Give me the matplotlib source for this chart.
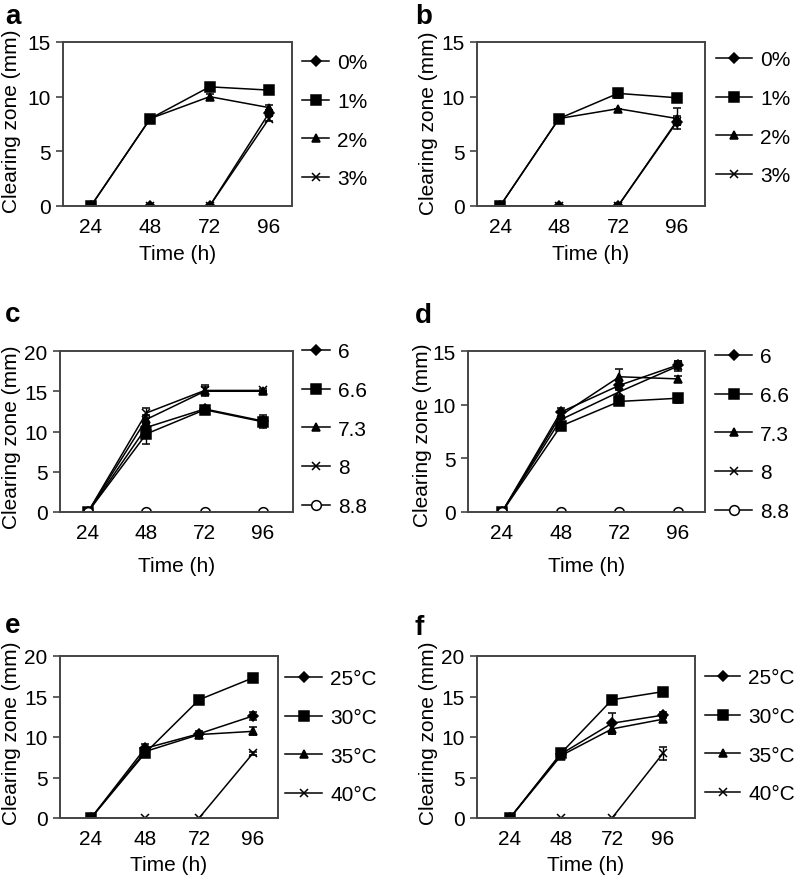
import numpy as np
import matplotlib.pyplot as plt

plt.rcParams['font.family'] = ['Liberation Sans', 'DejaVu Sans']

hours = [24, 48, 72, 96]
markers = ['D', 's', '^', 'x', 'o']

a_labels = ['0%', '1%', '2%', '3%']
a_vals = [[0, 0, 0, 8.5], [0, 8, 10.9, 10.6], [0, 8, 10.0, 9.0], [0, 0, 0, 8.0]]
a_err = [[0, 0, 0, 0.3], [0, 0, 0.2, 0.3], [0, 0, 0.2, 0.2], [0, 0, 0, 0.2]]

b_labels = ['0%', '1%', '2%', '3%']
b_vals = [[0, 0, 0, 7.7], [0, 8, 10.3, 9.9], [0, 8, 8.9, 8.0], [0, 0, 0, 7.8]]
b_err = [[0, 0, 0.3, 0.3], [0, 0, 0.4, 0.2], [0, 0, 0, 1.0], [0, 0, 0, 0.4]]

c_labels = ['6', '6.6', '7.3', '8', '8.8']
c_vals = [[0, 10.5, 12.8, 11.3], [0, 9.7, 12.7, 11.2], [0, 11.5, 15.0, 15.0],
          [0, 12.3, 15.1, 15.1], [0, 0, 0, 0]]
c_err = [[0, 0.6, 0, 0.5], [0, 1.2, 0.3, 0.8], [0, 0.5, 0.5, 0],
         [0, 0.6, 0.7, 0.2], [0, 0, 0, 0]]

d_labels = ['6', '6.6', '7.3', '8', '8.8']
d_vals = [[0, 9.3, 11.8, 13.7], [0, 8.0, 10.3, 10.6], [0, 9.0, 12.6, 12.4],
          [0, 8.6, 11.2, 13.6], [0, 0, 0, 0]]
d_err = [[0, 0.4, 0.4, 0.4], [0, 0.2, 0.3, 0.4], [0, 0.3, 0.7, 0.3],
         [0, 0.3, 0.3, 0.5], [0, 0, 0, 0]]

e_labels = ['25°C', '30°C', '35°C', '40°C']
e_vals = [[0, 8.6, 10.4, 12.6], [0, 8.0, 14.6, 17.3], [0, 8.2, 10.3, 10.7], [0, 0, 0, 8.0]]
e_err = [[0, 0.5, 0.3, 0.5], [0, 0.2, 0.2, 0.3], [0, 0.3, 0.2, 0.5], [0, 0, 0, 0.2]]

f_labels = ['25°C', '30°C', '35°C', '40°C']
f_vals = [[0, 7.9, 11.7, 12.7], [0, 8.0, 14.6, 15.6], [0, 7.7, 11.0, 12.2], [0, 0, 0, 8.0]]
f_err = [[0, 0.2, 1.3, 0.4], [0, 0.2, 0.2, 0.3], [0, 0.2, 0.6, 0.3], [0, 0, 0, 0.8]]

W, H = 796, 878
FS = 15
fig = plt.figure(figsize=(W / 100, H / 100), dpi=100)

# layout in pixels: box (left, top, right, bottom), xlim, legend (x, first row y),
# handle length px, ylabel (x px, y frac), xlabel y, letter (x, baseline y)
panels = [
    ('a', a_labels, a_vals, a_err, 15, (63, 43, 292, 207), (12.7, 105.3), (302, 63), 27, (12, 0.52), 255, (5, 24)),
    ('b', b_labels, b_vals, b_err, 15, (477, 43, 705, 207), (14.6, 107.4), (716, 60), 36, (428, 0.51), 255, (415, 24)),
    ('c', c_labels, c_vals, c_err, 20, (60, 352, 293, 513), (12.5, 108.3), (302, 352), 28, (12, 0.47), 567, (5, 322)),
    ('d', d_labels, d_vals, d_err, 15, (468, 352, 705, 513), (10.1, 107.0), (715, 357), 37, (422, 0.48), 567, (415, 323)),
    ('e', e_labels, e_vals, e_err, 20, (60, 657, 278, 819), (10.2, 107.1), (285, 679), 37, (12, 0.53), 866, (5, 633)),
    ('f', f_labels, f_vals, f_err, 20, (477, 657, 695, 819), (8.5, 111.0), (705, 678), 35, (428, 0.53), 866, (415, 635)),
]

for letter, labels, vals, errs, ymax, box, xlim, leg, hl, yl, xly, let in panels:
    l, t, r, b = box
    ax = fig.add_axes([l / W, 1 - b / H, (r - l) / W, (b - t) / H])
    handles = []
    for i, lab in enumerate(labels):
        m = markers[i]
        h = ax.errorbar(hours, vals[i], yerr=errs[i], color='black', lw=1.1,
                        marker=m, ms={'D': 5, 's': 7, '^': 6, 'x': 6, 'o': 7}[m],
                        mfc='white' if m == 'o' else 'black', mec='black', mew=1.1,
                        ecolor='black', elinewidth=1, capsize=3, capthick=1)
        handles.append(h[0])
    ax.set_xlim(*xlim)
    ax.set_ylim(0, ymax)
    ax.set_xticks(hours)
    ax.set_yticks(np.arange(0, ymax + 1, 5))
    ax.tick_params(axis='x', length=0, pad=8, labelsize=FS)
    ax.tick_params(axis='y', length=5, width=1.2, pad=4, labelsize=FS, color='#444444')
    for s in ax.spines.values():
        s.set_color('#444444')
        s.set_linewidth(1.4)
    ax.set_ylabel('Clearing zone (mm)', fontsize=FS)
    ax.yaxis.set_label_coords((yl[0] - l) / (r - l), yl[1])
    ax.yaxis.label.set_va('center')
    ax.set_xlabel('Time (h)', fontsize=FS)
    ax.xaxis.set_label_coords(0.5, -(xly - b) / (b - t))
    ax.xaxis.label.set_va('center')
    ax.legend(handles, labels, loc='upper left', frameon=False, fontsize=FS,
              bbox_to_anchor=(leg[0] / W, 1 - (leg[1] - 9) / H),
              bbox_transform=fig.transFigure, borderaxespad=0, borderpad=0,
              handlelength=hl / (FS * 100 / 72), handletextpad=0.4,
              labelspacing=0.95)
    fig.text(let[0] / W, 1 - let[1] / H, letter, fontsize=20, fontweight='bold',
             ha='left', va='baseline')

fig.savefig('out.png', dpi=100)
